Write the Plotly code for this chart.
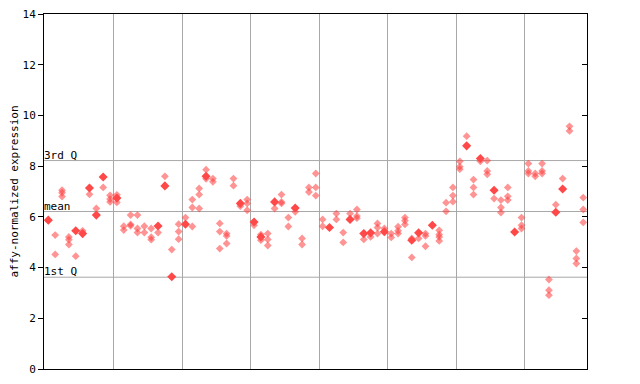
import plotly.graph_objects as go

# replicate values per sample (sample index = position in list)
sample_values = [
    [5.87], [5.28, 4.52], [7.05, 6.95, 6.80], [5.21, 5.10, 4.91], [4.45],
    [5.45], [6.89], [6.33], [7.16], [6.85, 6.70, 6.59],
    [6.87, 6.57], [5.63, 5.48], [6.07, 5.70, 5.65], [6.07, 5.54, 5.38], [5.63, 5.38],
    [5.54, 5.20, 5.10], [5.38], [7.60], [4.71], [5.71, 5.42, 5.12],
    [5.97], [6.68, 6.37, 5.62], [7.12, 6.88, 6.33], [7.86, 7.50], [7.51, 7.38],
    [5.74, 5.42, 4.75], [5.34, 5.25, 4.95], [7.51, 7.23], [6.42], [6.68, 6.53, 6.26],
    [5.67], [5.30, 5.08], [5.34, 5.11, 4.87], [6.33], [6.88, 6.59, 6.53],
    [5.97, 5.62], [6.20], [5.15, 4.91], [7.16, 6.98], [7.71, 7.16, 6.84],
    [5.90, 5.63], [], [6.13, 5.90], [5.38, 4.99], [6.13],
    [6.29, 6.03, 5.95], [5.11], [5.21], [5.74, 5.58, 5.34], [5.54],
    [5.34, 5.19], [5.61, 5.45, 5.34], [5.97, 5.85, 5.70], [5.15, 4.40], [5.15],
    [5.34, 5.25, 4.84], [], [5.47, 5.30, 5.21, 5.05], [6.56, 6.22], [7.16, 6.84, 6.60],
    [8.19, 7.98, 7.88], [9.18], [7.47, 7.16, 6.88], [8.19], [8.22, 7.81, 7.68],
    [6.72], [6.66, 6.37, 6.17], [7.16, 6.81, 6.66], [], [5.97, 5.67, 5.54],
    [8.10, 7.81, 7.71], [7.71, 7.60], [8.10, 7.81, 7.71], [3.53, 3.11, 2.91], [6.48],
    [7.51], [9.57, 9.39], [4.65, 4.36, 4.16], [6.76, 6.29, 5.78],
]

# highlighted (solid) points: sample index and value
highlight_index = [0, 4, 5, 6, 7, 8, 10, 16, 17, 18, 20, 23, 28, 30, 31, 33, 36,
                   41, 44, 46, 47, 49, 53, 54, 56, 61, 63, 65, 68, 74, 75]
highlight_value = [5.87, 5.45, 5.34, 7.14, 6.07, 7.57, 6.74, 5.64, 7.22, 3.64, 5.71,
                   7.60, 6.53, 5.80, 5.21, 6.59, 6.35, 5.58, 5.90, 5.34, 5.37, 5.41,
                   5.08, 5.37, 5.67, 8.80, 8.30, 7.05, 5.40, 6.18, 7.10]

group_boundaries = [9.5, 19.5, 29.5, 39.5, 49.5, 59.5, 69.5]
y_ticks = [0, 2, 4, 6, 8, 10, 12, 14]
stat_names = ["3rd Q", "mean", "1st Q"]
stat_values = [8.22, 6.21, 3.62]

xs, ys = [], []
for i, vals in enumerate(sample_values):
    for v in vals:
        xs.append(i)
        ys.append(v)

mono = "DejaVu Sans Mono"
fig = go.Figure()
fig.add_trace(go.Scatter(
    x=xs, y=ys, mode="markers",
    marker=dict(symbol="diamond", size=6, color="rgba(255,60,60,0.55)", line=dict(width=0)),
    hoverinfo="skip", showlegend=False))
fig.add_trace(go.Scatter(
    x=highlight_index, y=highlight_value, mode="markers",
    marker=dict(symbol="diamond", size=7, color="#ff4848", line=dict(width=0)),
    hoverinfo="skip", showlegend=False))
fig.add_trace(go.Scatter(x=[None], y=[None], yaxis="y2", showlegend=False, hoverinfo="skip"))

for name, v in zip(stat_names, stat_values):
    fig.add_shape(type="line", xref="paper", x0=0, x1=1, yref="y", y0=v, y1=v,
                  line=dict(color="#a8a8a8", width=1), layer="below")
    fig.add_annotation(xref="paper", x=0, xanchor="left", yref="y", y=v, yanchor="bottom",
                       text=name, showarrow=False, font=dict(family=mono, size=11, color="black"),
                       xshift=-2, yshift=-3)

# the page body has an 8px default margin, so the figure is sized/offset to compensate
fig.update_layout(
    width=632, height=376,
    margin=dict(l=36, r=53, t=6, b=15),
    paper_bgcolor="white", plot_bgcolor="white",
    xaxis=dict(range=[-0.63, 78.55], tickvals=group_boundaries, showticklabels=False,
               ticks="", showgrid=True, gridcolor="#a8a8a8", gridwidth=1, automargin=False,
               showline=True, linecolor="black", linewidth=1, mirror=True, zeroline=False),
    yaxis=dict(range=[0, 14], tickvals=y_ticks, ticks="outside", ticklen=5, tickcolor="black",
               showgrid=False, zeroline=False, showline=True, linecolor="black", linewidth=1,
               automargin=False, ticklabeloverflow="allow",
               tickfont=dict(family=mono, size=11, color="black"),
               title=dict(text="affy-normalized expression", font=dict(family=mono, size=11, color="black"),
                          standoff=11)),
    yaxis2=dict(range=[0, 14], overlaying="y", side="right", tickvals=y_ticks, ticks="inside",
                ticklen=5, tickcolor="black", showticklabels=False, showgrid=False, zeroline=False,
                showline=True, linecolor="black", linewidth=1, automargin=False),
)

fig.write_html("out.html")
